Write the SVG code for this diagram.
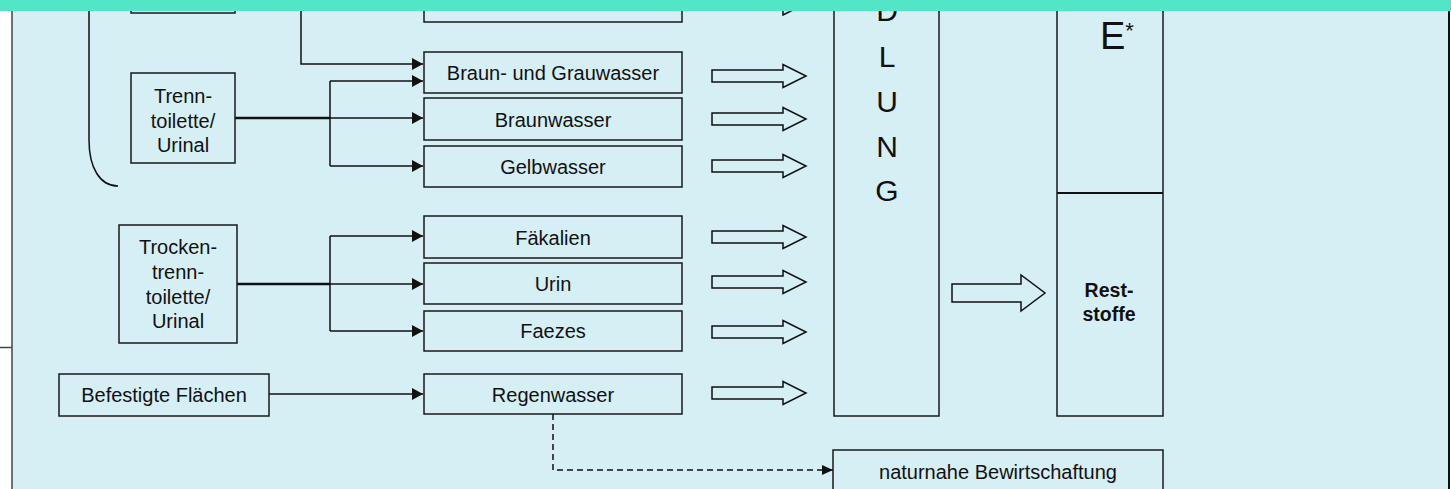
<svg xmlns="http://www.w3.org/2000/svg" width="1451" height="489" viewBox="0 0 1451 489">
<defs>
<style>
.bx{fill:#D6EFF4;stroke:#1a1a1a;stroke-width:1.5}
.t{font-family:"Liberation Sans",Arial,sans-serif;font-size:20px;fill:#111;text-anchor:middle}
.tb{font-family:"Liberation Sans",Arial,sans-serif;font-size:19.5px;font-weight:bold;fill:#111;text-anchor:middle}
.big{font-family:"Liberation Sans",Arial,sans-serif;font-size:30px;fill:#111;text-anchor:middle}
.ln{fill:none;stroke:#111;stroke-width:1.5}
.thick{fill:none;stroke:#111;stroke-width:2.5}
.ha{fill:#D6EFF4;stroke:#111;stroke-width:1.5;stroke-linejoin:miter}
</style>
<marker id="ah" viewBox="0 0 11 12" refX="11" refY="6" markerWidth="11" markerHeight="12" markerUnits="userSpaceOnUse" orient="auto">
<path d="M0,0 L11,6 L0,12 z" fill="#111"/>
</marker>
<marker id="ahs" viewBox="0 0 11 10" refX="11" refY="5" markerWidth="11" markerHeight="10" markerUnits="userSpaceOnUse" orient="auto">
<path d="M0,0 L11,5 L0,10 z" fill="#111"/>
</marker>
<path id="harrow" d="M0,-6 L71,-6 L71,-11.5 L94,0 L71,11.5 L71,6 L0,6 Z"/>
</defs>

<rect x="0" y="0" width="1451" height="489" fill="#FFFFFF"/>
<rect x="12" y="0" width="1437" height="489" fill="#D6EFF4"/>
<line x1="12" y1="0" x2="12" y2="489" stroke="#444" stroke-width="1.5"/>
<line x1="1449" y1="0" x2="1449" y2="489" stroke="#111" stroke-width="2"/>
<line x1="0" y1="347.5" x2="12" y2="347.5" stroke="#444" stroke-width="1.5"/>

<g id="connectors">
<path class="ln" d="M89,0 L89,140 C89,168 100,186 118,186"/>
<path class="ln" d="M301,0 L301,64 L423,64" marker-end="url(#ah)"/>
<path class="thick" d="M235,118 L330,118"/>
<path class="ln" d="M330,118 L423,118" marker-end="url(#ah)"/>
<path class="ln" d="M330,81 L423,81" marker-end="url(#ah)"/>
<path class="ln" d="M330,166 L423,166" marker-end="url(#ah)"/>
<path class="ln" d="M330,81 L330,166"/>
<path class="thick" d="M237,284 L330,284"/>
<path class="ln" d="M330,284 L423,284" marker-end="url(#ah)"/>
<path class="ln" d="M330,236 L423,236" marker-end="url(#ah)"/>
<path class="ln" d="M330,331 L423,331" marker-end="url(#ah)"/>
<path class="ln" d="M330,236 L330,331"/>
<path class="ln" d="M269,394 L423,394" marker-end="url(#ah)"/>
<path class="ln" d="M553,414 L553,470 L833,470" stroke-dasharray="6,4" marker-end="url(#ahs)"/>
<use href="#harrow" class="ha" x="712" y="3.5"/>
<use href="#harrow" class="ha" x="712" y="76"/>
<use href="#harrow" class="ha" x="712" y="119"/>
<use href="#harrow" class="ha" x="712" y="166"/>
<use href="#harrow" class="ha" x="712" y="237"/>
<use href="#harrow" class="ha" x="712" y="282"/>
<use href="#harrow" class="ha" x="712" y="332"/>
<use href="#harrow" class="ha" x="712" y="393"/>
<path class="ha" d="M952,284 L1021,284 L1021,275 L1045,293 L1021,311 L1021,302 L952,302 Z"/>
</g>

<g id="node-topleft"><rect class="bx" x="131" y="-30" width="104" height="43"/></g>
<g id="node-topmid"><rect class="bx" x="424" y="-30" width="258" height="52"/></g>

<g id="node-trenntoilette">
<rect class="bx" x="131" y="73" width="104" height="90"/>
<text class="t" x="183" y="102.5">Trenn-</text>
<text class="t" x="183" y="128">toilette/</text>
<text class="t" x="183" y="151.5">Urinal</text>
</g>

<g id="node-trockentrenntoilette">
<rect class="bx" x="119" y="225" width="118" height="118"/>
<text class="t" x="178" y="254">Trocken-</text>
<text class="t" x="178" y="279">trenn-</text>
<text class="t" x="178" y="304">toilette/</text>
<text class="t" x="178" y="328">Urinal</text>
</g>

<g id="node-befestigte">
<rect class="bx" x="59" y="374" width="210" height="42"/>
<text class="t" x="164" y="402">Befestigte Flächen</text>
</g>

<g id="node-braungrau">
<rect class="bx" x="424" y="52" width="258" height="41"/>
<text class="t" x="553" y="80">Braun- und Grauwasser</text>
</g>
<g id="node-braunwasser">
<rect class="bx" x="424" y="98" width="258" height="42"/>
<text class="t" x="553" y="126.5">Braunwasser</text>
</g>
<g id="node-gelbwasser">
<rect class="bx" x="424" y="146" width="258" height="41"/>
<text class="t" x="553" y="174">Gelbwasser</text>
</g>
<g id="node-faekalien">
<rect class="bx" x="424" y="216" width="258" height="42"/>
<text class="t" x="553" y="245">Fäkalien</text>
</g>
<g id="node-urin">
<rect class="bx" x="424" y="263" width="258" height="41"/>
<text class="t" x="553" y="291">Urin</text>
</g>
<g id="node-faezes">
<rect class="bx" x="424" y="311" width="258" height="40"/>
<text class="t" x="553" y="337.5">Faezes</text>
</g>
<g id="node-regenwasser">
<rect class="bx" x="424" y="374" width="258" height="40"/>
<text class="t" x="553" y="401.5">Regenwasser</text>
</g>

<g id="node-behandlung">
<rect class="bx" x="834" y="-30" width="105" height="446"/>
<text class="big" x="887" y="21">D</text>
<text class="big" x="887" y="67">L</text>
<text class="big" x="887" y="112">U</text>
<text class="big" x="887" y="157">N</text>
<text class="big" x="887" y="201">G</text>
</g>

<g id="node-ressource">
<rect class="bx" x="1057" y="-30" width="106" height="446"/>
<line x1="1057" y1="193" x2="1163" y2="193" stroke="#111" stroke-width="2"/>
<text font-family="Liberation Sans, Arial, sans-serif" font-size="38" fill="#111" x="1100" y="49">E<tspan font-size="22" dy="-11">*</tspan></text>
<text class="tb" x="1109" y="297">Rest-</text>
<text class="tb" x="1109" y="321">stoffe</text>
</g>

<g id="node-naturnah">
<rect class="bx" x="833" y="450" width="330" height="60"/>
<text class="t" x="998" y="479">naturnahe Bewirtschaftung</text>
</g>

<rect x="0" y="0" width="1451" height="11" fill="#53E6C6"/>
</svg>
